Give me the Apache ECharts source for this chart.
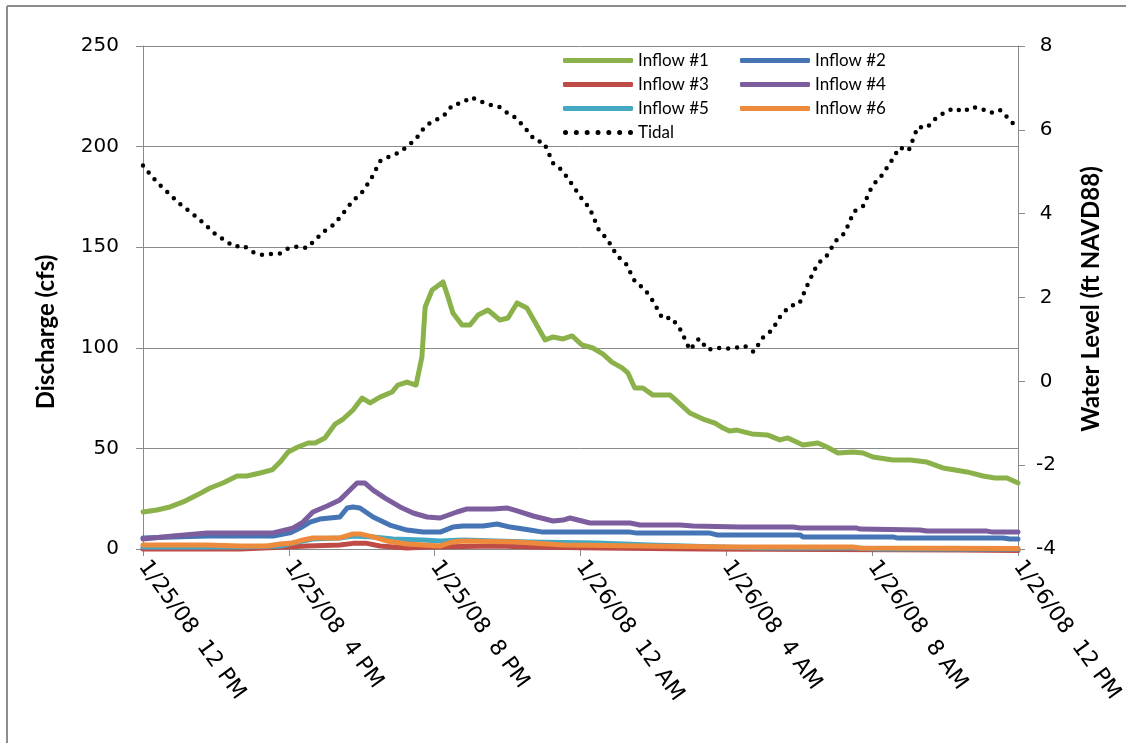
<!DOCTYPE html>
<html>
<head>
<meta charset="utf-8">
<script src="https://cdn.jsdelivr.net/npm/echarts@6/dist/echarts.min.js"></script>
<style>
  html, body { margin: 0; padding: 0; background: #fff; }
  #chart { width: 1133px; height: 743px; }
</style>
</head>
<body>
<div id="chart"></div>
<script>
// Time axis: hours elapsed since 1/25/08 12 PM, labelled every 4 hours
const timeLabels = ['1/25/08  12 PM', '1/25/08  4 PM', '1/25/08  8 PM', '1/26/08  12 AM',
                    '1/26/08  4 AM', '1/26/08  8 AM', '1/26/08  12 PM'];

// Discharge (cfs): [hour, value]
const inflow1 = [[0,18.4],[0.38,19.4],[0.74,20.9],[1.10,23.4],[1.48,26.8],[1.84,30.3],[2.19,32.8],
  [2.58,36.3],[2.85,36.3],[3.21,37.8],[3.54,39.3],[3.76,43.2],[3.98,48.2],[4.25,50.7],[4.53,52.7],
  [4.72,52.7],[4.99,55.2],[5.27,62.1],[5.49,64.6],[5.76,69.1],[6.01,75.0],[6.23,72.6],[6.50,75.5],
  [6.83,78.0],[6.99,81.5],[7.24,83.0],[7.49,81.5],[7.65,95.4],[7.74,120.3],[7.93,128.7],[8.23,132.7],
  [8.37,125.0],[8.50,117.3],[8.75,111.3],[8.97,111.3],[9.19,116.3],[9.46,118.8],[9.79,113.8],
  [10.01,114.8],[10.26,122.3],[10.53,119.8],[10.75,112.8],[11.03,103.9],[11.25,105.4],[11.52,104.4],
  [11.77,105.9],[12.04,101.4],[12.34,99.9],[12.62,96.9],[12.86,92.9],[13.14,90.0],[13.30,87.5],
  [13.49,80.0],[13.71,80.0],[13.99,76.5],[14.46,76.5],[14.67,73.1],[15.00,67.6],[15.36,64.6],
  [15.69,62.6],[15.91,60.1],[16.10,58.6],[16.29,59.1],[16.70,57.2],[17.12,56.7],[17.47,54.2],
  [17.69,55.2],[18.10,51.7],[18.51,52.7],[18.76,50.7],[19.06,47.7],[19.47,48.2],[19.75,47.7],
  [20.02,45.7],[20.57,44.2],[21.04,44.2],[21.50,43.2],[21.94,40.3],[22.60,38.3],[23.04,36.3],
  [23.37,35.3],[23.70,35.3],[24,32.8]];

const inflow2 = [[0,5.5],[0.82,6],[1.76,6.5],[3.57,6.5],[4.03,8],[4.31,10.4],[4.58,13.4],[4.85,14.9],
  [5.40,15.9],[5.60,20.4],[5.76,20.9],[5.95,20.4],[6.31,15.9],[6.77,11.9],[7.24,9.4],[7.68,8.4],
  [8.15,8.4],[8.50,10.9],[8.78,11.4],[9.33,11.4],[9.71,12.4],[10.07,10.9],[10.61,9.4],[10.97,8.4],
  [13.36,8.4],[13.55,7.9],[15.55,7.9],[15.74,7.0],[18.02,7.0],[18.10,6.0],[20.57,6.0],[20.68,5.5],
  [23.59,5.5],[23.78,5.0],[24,5.0]];

const inflow3 = [[0,0],[2.66,0],[3.95,1],[4.50,1.5],[5.40,2],[5.76,2.8],[6.14,2.8],[6.50,1.5],
  [7.24,0.5],[7.87,1],[9.71,1.5],[10.61,1],[12.53,0.5],[15.28,0],[22.4,-0.5],[24,-0.8]];

const inflow4 = [[0,5.0],[0.82,6.5],[1.76,8],[3.57,8],[4.11,10.4],[4.39,13.4],[4.66,18.4],[5.05,21.4],
  [5.40,24.4],[5.62,28.3],[5.87,32.8],[6.09,32.8],[6.31,29.3],[6.64,25.3],[7.05,20.9],[7.41,17.9],
  [7.79,15.9],[8.15,15.4],[8.61,18.4],[8.89,19.9],[9.60,19.9],[9.98,20.4],[10.26,18.9],[10.70,16.4],
  [11.25,13.9],[11.52,14.4],[11.71,15.4],[12.26,12.9],[13.36,12.9],[13.63,11.9],[14.73,11.9],
  [15.09,11.4],[16.37,10.9],[17.83,10.9],[18.02,10.4],[19.58,10.4],[19.67,9.9],[21.31,9.4],
  [21.50,8.9],[23.15,8.9],[23.31,8.4],[24,8.4]];

const inflow5 = [[0,1],[2.66,1],[3.76,1.5],[4.11,3],[4.66,5],[5.40,5.5],[5.76,6.5],[6.31,6],[6.86,5],
  [7.68,4.5],[8.15,4],[8.78,4.5],[10.61,3.5],[12.45,3],[13.91,2],[15.83,1],[17.12,0.5],[19.47,0.5],
  [20.2,0],[24,0]];

const inflow6 = [[0,2],[1.76,2],[2.66,1.5],[3.40,1.5],[3.76,2.5],[4.11,3],[4.39,4.5],[4.66,5.5],
  [5.40,5.5],[5.76,7.5],[5.95,7.5],[6.31,6],[6.69,4],[7.24,2.5],[8.15,1.5],[8.50,3.5],[8.78,4],
  [10.26,3.5],[11.52,2],[16.10,1],[19.47,1],[19.67,0.5],[24,0.3]];

// Water level (ft NAVD88), one reading every 15 minutes
const tidalStepHours = 0.25;
const tidal = [5.15,4.88,4.65,4.45,4.24,4.07,3.90,3.70,3.50,3.36,3.21,3.24,3.09,3.02,3.04,3.05,
  3.18,3.22,3.18,3.40,3.60,3.75,4.02,4.30,4.50,4.82,5.25,5.36,5.45,5.60,5.80,6.10,6.22,6.34,6.60,
  6.64,6.78,6.68,6.60,6.56,6.40,6.27,6.02,5.75,5.69,5.20,5.03,4.72,4.40,4.13,3.62,3.37,3.00,2.80,
  2.37,2.21,1.90,1.50,1.52,1.22,0.75,1.02,0.75,0.80,0.78,0.80,0.85,0.70,1.04,1.22,1.58,1.80,1.85,
  2.35,2.80,2.99,3.35,3.54,4.05,4.18,4.66,4.90,5.22,5.58,5.50,6.07,6.05,6.28,6.42,6.52,6.43,6.55,
  6.50,6.40,6.48,6.26,6.02];

const colors = {
  inflow1: '#8bb24a', inflow2: '#4575b5', inflow3: '#bf4b47',
  inflow4: '#7c5e9f', inflow5: '#45a8c3', inflow6: '#ee8a3b'
};

const gridColor = '#8a8a8a';
const tickFont = 'DejaVu Sans';
const titleFont = 'Lato';

// Legend keys: a rounded bar for the flows, a row of dots for the tide
const dotRowIcon = 'path://' + [0, 1, 2, 3, 4, 5, 6].map(k => {
  const cx = 2.5 + k * 10.83;
  return `M${cx - 2.5},2.5 A2.5,2.5 0 1 0 ${cx + 2.5},2.5 A2.5,2.5 0 1 0 ${cx - 2.5},2.5 Z`;
}).join(' ');

const chart = echarts.init(document.getElementById('chart'), null, { renderer: 'canvas' });

function inflowSeries(name, data, color) {
  return {
    name, type: 'line', data, yAxisIndex: 0, showSymbol: false, symbol: 'none',
    clip: false, animation: false,
    lineStyle: { color, width: 5, cap: 'round', join: 'round' },
    itemStyle: { color }
  };
}

const legendText = { fontFamily: titleFont, fontSize: 17, color: '#000' };
const legendBase = {
  orient: 'vertical', itemWidth: 70, itemHeight: 5, itemGap: 7, top: 47,
  textStyle: legendText, itemStyle: { borderWidth: 0 }, lineStyle: { width: 0 }
};

chart.setOption({
  animation: false,
  backgroundColor: '#fff',
  grid: { left: 143, right: 115, top: 46, bottom: 194, containLabel: false },
  legend: [
    Object.assign({}, legendBase, {
      left: 558,
      data: [
        { name: 'Inflow #1', icon: 'roundRect' },
        { name: 'Inflow #3', icon: 'roundRect' },
        { name: 'Inflow #5', icon: 'roundRect' },
        { name: 'Tidal', icon: dotRowIcon }
      ]
    }),
    Object.assign({}, legendBase, {
      left: 735,
      data: [
        { name: 'Inflow #2', icon: 'roundRect' },
        { name: 'Inflow #4', icon: 'roundRect' },
        { name: 'Inflow #6', icon: 'roundRect' }
      ]
    })
  ],
  xAxis: {
    type: 'value', min: 0, max: 24, interval: 4,
    axisLine: { show: true, lineStyle: { color: gridColor, width: 1 } },
    axisTick: { show: true, inside: false, length: 7, lineStyle: { color: gridColor } },
    splitLine: { show: false },
    axisLabel: {
      rotate: -54, margin: 14, color: '#000', fontFamily: tickFont, fontSize: 22,
      formatter: v => timeLabels[Math.round(v / 4)] || ''
    }
  },
  yAxis: [
    {
      type: 'value', min: 0, max: 250, interval: 50, position: 'left',
      axisLine: { show: true, lineStyle: { color: gridColor, width: 1 } },
      axisTick: { show: true, inside: false, length: 7, lineStyle: { color: gridColor } },
      splitLine: { show: true, lineStyle: { color: gridColor, width: 1 } },
      axisLabel: { margin: 24, color: '#000', fontFamily: tickFont, fontSize: 20 }
    },
    {
      type: 'value', min: -4, max: 8, interval: 2, position: 'right',
      axisLine: { show: true, lineStyle: { color: gridColor, width: 1 } },
      axisTick: { show: true, inside: false, length: 7, lineStyle: { color: gridColor } },
      splitLine: { show: false },
      axisLabel: { margin: 28, align: 'center', color: '#000', fontFamily: tickFont, fontSize: 20 }
    }
  ],
  graphic: [
    { type: 'line', shape: { x1: 7, y1: 6, x2: 1126, y2: 6 }, style: { stroke: '#8c8c8c', lineWidth: 2 } },
    { type: 'line', shape: { x1: 7, y1: 6, x2: 7, y2: 743 }, style: { stroke: '#8c8c8c', lineWidth: 2 } },
    {
      type: 'text', x: 46, y: 332, rotation: Math.PI / 2,
      style: { text: 'Discharge (cfs)', fontFamily: titleFont, fontWeight: 'bold', fontSize: 24,
               fill: '#000', align: 'center', verticalAlign: 'middle' }
    },
    {
      type: 'text', x: 1091, y: 299, rotation: Math.PI / 2,
      style: { text: 'Water Level (ft NAVD88)', fontFamily: titleFont, fontWeight: 'bold', fontSize: 24,
               fill: '#000', align: 'center', verticalAlign: 'middle' }
    }
  ],
  series: [
    inflowSeries('Inflow #1', inflow1, colors.inflow1),
    inflowSeries('Inflow #2', inflow2, colors.inflow2),
    inflowSeries('Inflow #3', inflow3, colors.inflow3),
    inflowSeries('Inflow #4', inflow4, colors.inflow4),
    inflowSeries('Inflow #5', inflow5, colors.inflow5),
    inflowSeries('Inflow #6', inflow6, colors.inflow6),
    {
      name: 'Tidal', type: 'line', yAxisIndex: 1, showSymbol: false, symbol: 'none',
      clip: false, animation: false,
      data: tidal.map((v, i) => [i * tidalStepHours, v]),
      lineStyle: { color: '#000', width: 4.5, type: [0, 9], cap: 'round', join: 'round' },
      itemStyle: { color: '#000' }
    }
  ]
});
</script>
</body>
</html>
